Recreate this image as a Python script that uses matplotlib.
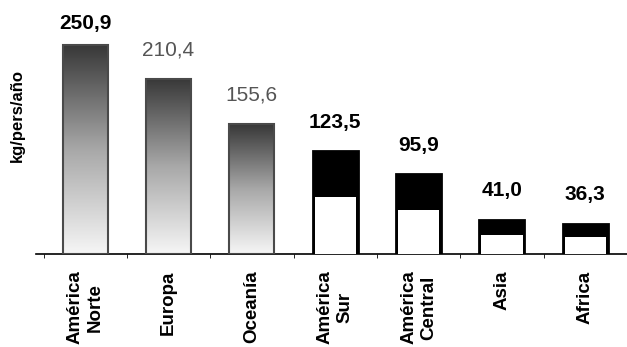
import numpy as np
import matplotlib
matplotlib.use("Agg")
import matplotlib.pyplot as plt
from matplotlib.colors import LinearSegmentedColormap

plt.rcParams['font.family'] = ['Liberation Sans', 'DejaVu Sans']

regions = ["América\nNorte", "Europa", "Oceanía", "América\nSur", "América\nCentral", "Asia", "Africa"]
values = [250.9, 210.4, 155.6, 123.5, 95.9, 41.0, 36.3]
labels = ["250,9", "210,4", "155,6", "123,5", "95,9", "41,0", "36,3"]
gradient_style = [True, True, True, False, False, False, False]
label_bold = [True, False, False, True, True, True, True]

fig = plt.figure(figsize=(6.27, 3.47), dpi=100)
ax = fig.add_axes([36/627, 93/347, 591/627, 254/347])

x = np.arange(len(values))
width = 0.54
XL = (-0.59, 6.377)
ax.set_xlim(*XL)
ax.set_ylim(0, 305)

cmap = LinearSegmentedColormap.from_list("g", ["#f6f6f6", "#a8a8a8", "#383838"])
grad = np.linspace(0, 1, 256).reshape(-1, 1)

for i, (xi, v) in enumerate(zip(x, values)):
    if gradient_style[i]:
        bar = ax.bar(xi, v, width, facecolor="none", edgecolor="#4a4a4a", linewidth=1.5, zorder=3)[0]
        im = ax.imshow(grad, cmap=cmap, origin="lower", aspect="auto",
                       extent=[xi - width/2, xi + width/2, 0, v], zorder=2)
        im.set_clip_path(bar)
    else:
        ax.bar(xi, v, width, facecolor="black", edgecolor="black", linewidth=2, zorder=2)
        ax.bar(xi, v * 0.55, width * 0.92, facecolor="white", edgecolor="none", zorder=3)
    off = 9 if i == 0 else 14
    ax.annotate(labels[i], (xi, v), xytext=(0, off), textcoords="offset points",
                ha="center", va="bottom", fontsize=15,
                fontweight="bold" if label_bold[i] else "normal",
                color="black" if label_bold[i] else "#555555")

ax.set_xlim(*XL)
ax.set_ylim(0, 305)

for s in ["top", "right", "left"]:
    ax.spines[s].set_visible(False)
ax.spines["bottom"].set_linewidth(1.2)
ax.set_yticks([])
ax.set_xticks(x)
ax.set_xticklabels(regions, rotation=90, fontsize=13.5, fontweight="bold",
                   ha="center", va="top", multialignment="center")
ax.tick_params(axis="x", which="major", length=0, pad=12)
ax.set_xticks(np.arange(-0.5, len(values), 1.0), minor=True)
ax.tick_params(axis="x", which="minor", length=3, direction="out")

fig.text(17/627, 1 - 115/347, "kg/pers/año", rotation=90, ha="center", va="center",
         fontsize=12, fontweight="bold")

fig.savefig("out.png", dpi=100)
